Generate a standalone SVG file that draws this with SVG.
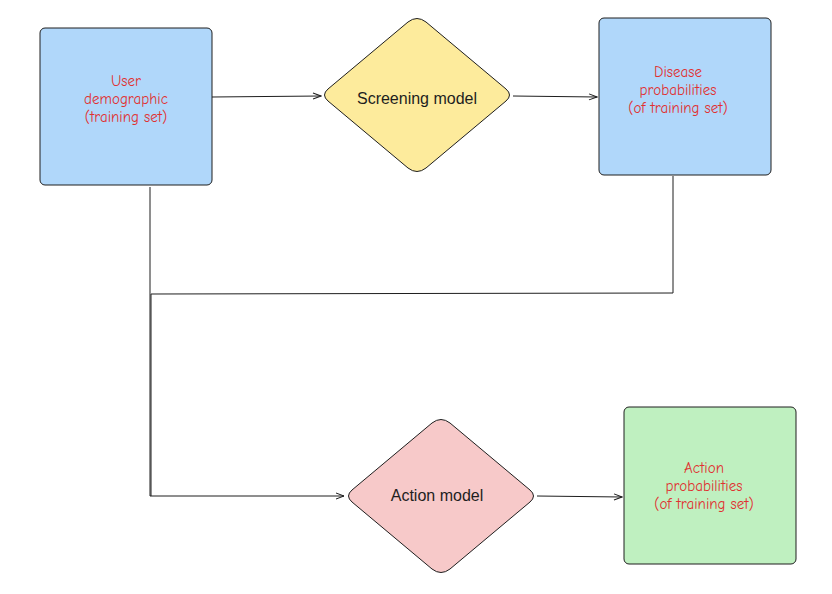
<svg xmlns="http://www.w3.org/2000/svg" width="832" height="594" viewBox="0 0 832 594">
<style>
.box{stroke:#1e1e1e;stroke-width:1;}
.blue{fill:#b0d7fa;}
.green{fill:#bff0c0;}
.yellow{fill:#fdeb9c;}
.pink{fill:#f7c9c9;}
.lbl{font-family:"Comic Neue","Liberation Sans",sans-serif;font-size:15px;fill:#e03131;text-anchor:middle;}
.dlbl{font-family:"Liberation Sans",sans-serif;font-size:16px;fill:#1e1e1e;text-anchor:middle;}
.conn{fill:none;stroke:#1e1e1e;stroke-width:1;}
</style>
<defs>
<marker id="arr" markerWidth="10" markerHeight="10" refX="9" refY="5" orient="auto" markerUnits="userSpaceOnUse">
<path d="M1,2 L9,5 L1,8" fill="none" stroke="#1e1e1e" stroke-width="1"/>
</marker>
</defs>
<g id="connectors">
<path class="conn" d="M212,97 L321,96" marker-end="url(#arr)"/>
<path class="conn" d="M513,96 L597,97" marker-end="url(#arr)"/>
<path class="conn" d="M150,187 L150,496 L344,496" marker-end="url(#arr)"/>
<path class="conn" d="M673,176 L673,293 L151,294 L151,496"/>
<path class="conn" d="M537,496 L622,497" marker-end="url(#arr)"/>
</g>
<g id="user-demographic">
<rect class="box blue" x="40" y="28" width="172" height="157" rx="5"/>
<text class="lbl" x="126" y="86">User</text>
<text class="lbl" x="126" y="104">demographic</text>
<text class="lbl" x="126" y="122">(training set)</text>
</g>
<g id="screening-model">
<path class="box yellow" d="M408,22 Q417,15 426,22 L506,89 Q513,95 506,101 L426,168 Q417,175 408,168 L328,101 Q321,95 328,89 Z"/>
<text class="dlbl" x="417" y="104">Screening model</text>
</g>
<g id="disease-probabilities">
<rect class="box blue" x="599" y="18" width="172" height="157" rx="5"/>
<text class="lbl" x="678" y="77">Disease</text>
<text class="lbl" x="678" y="95">probabilities</text>
<text class="lbl" x="678" y="113">(of training set)</text>
</g>
<g id="action-model">
<path class="box pink" d="M432,423 Q441,416 450,423 L530,490 Q537,496 530,502 L450,569 Q441,576 432,569 L352,502 Q345,496 352,490 Z"/>
<text class="dlbl" x="437" y="501">Action model</text>
</g>
<g id="action-probabilities">
<rect class="box green" x="624" y="407" width="172" height="157" rx="5"/>
<text class="lbl" x="704" y="473">Action</text>
<text class="lbl" x="704" y="491">probabilities</text>
<text class="lbl" x="704" y="509">(of training set)</text>
</g>
</svg>
